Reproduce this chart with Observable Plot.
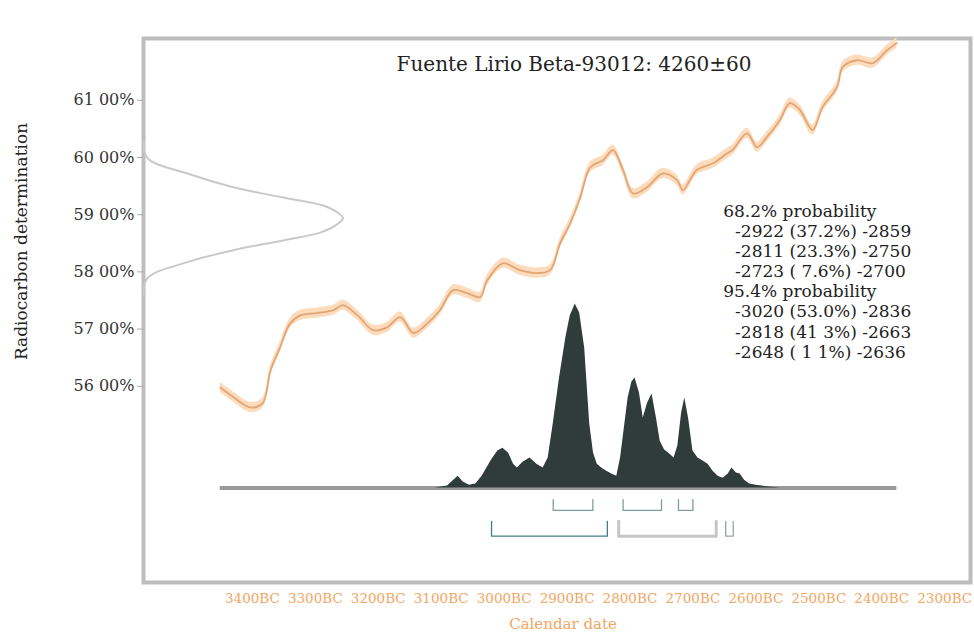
<!DOCTYPE html>
<html><head><meta charset="utf-8">
<script src="https://cdn.jsdelivr.net/npm/d3@7"></script>
<script src="https://cdn.jsdelivr.net/npm/@observablehq/plot@0.6"></script>
<style>
body{margin:0;background:#fff;}
#chart{width:974px;height:634px;}
</style></head><body><div id="chart"></div>
<script>
const title = "Fuente Lirio Beta-93012: 4260±60";
const yAxisLabel = "Radiocarbon determination";
const xAxisLabel = "Calendar date";

// calibration curve (calendar year, negative = BC) and radiocarbon %
const curveYear = [-3451,-3430,-3403,-3384,-3371,-3356,-3340,-3324,-3297,-3271,-3256,-3233,-3208,-3186,-3165,-3144,-3122,-3102,-3081,-3059,-3038,-3027,-3002,-2975,-2948,-2927,-2911,-2895,-2879,-2863,-2843,-2827,-2811,-2795,-2773,-2748,-2725,-2716,-2694,-2668,-2646,-2637,-2614,-2598,-2583,-2562,-2546,-2530,-2510,-2494,-2471,-2462,-2440,-2414,-2392,-2376];
const curvePct = [55.98,55.81,55.63,55.70,56.28,56.68,57.10,57.24,57.28,57.33,57.42,57.24,56.98,57.03,57.21,56.93,57.10,57.33,57.68,57.63,57.56,57.85,58.15,58.03,57.98,58.03,58.50,58.85,59.30,59.83,59.95,60.13,59.78,59.37,59.48,59.72,59.60,59.43,59.78,59.90,60.07,60.13,60.42,60.18,60.35,60.65,60.95,60.83,60.48,60.88,61.23,61.58,61.70,61.65,61.87,62.00];

// calibrated probability distribution (relative)
const probYear = [-3110,-3090,-3080,-3073,-3065,-3055,-3045,-3035,-3020,-3010,-3002,-2993,-2985,-2979,-2970,-2959,-2948,-2938,-2930,-2922,-2912,-2902,-2895,-2887,-2880,-2872,-2864,-2858,-2852,-2845,-2837,-2829,-2821,-2815,-2811,-2803,-2797,-2792,-2785,-2779,-2772,-2765,-2758,-2752,-2745,-2737,-2730,-2724,-2718,-2713,-2707,-2700,-2692,-2684,-2676,-2668,-2660,-2652,-2644,-2638,-2631,-2625,-2618,-2610,-2600,-2590,-2575,-2560];
const probValue = [0,0.011,0.043,0.065,0.033,0.016,0.022,0.065,0.152,0.201,0.217,0.190,0.130,0.109,0.141,0.163,0.130,0.109,0.163,0.348,0.598,0.815,0.935,1.000,0.951,0.761,0.348,0.190,0.130,0.109,0.092,0.076,0.065,0.163,0.272,0.489,0.576,0.598,0.516,0.380,0.462,0.511,0.380,0.255,0.207,0.185,0.163,0.228,0.408,0.489,0.380,0.201,0.163,0.147,0.130,0.092,0.065,0.054,0.076,0.109,0.082,0.076,0.043,0.022,0.016,0.011,0.005,0];

// radiocarbon measurement distribution (on the y axis)
const measPct = [60.30,59.99,59.72,59.48,59.30,59.16,59.02,58.94,58.83,58.69,58.55,58.38,58.17,57.89,57.59];
const measDensity = [0,0.02,0.22,0.45,0.70,0.90,0.98,1.00,0.97,0.89,0.70,0.45,0.22,0.02,0];

// ranges
const range68From = [-2922,-2811,-2723];
const range68To = [-2859,-2750,-2700];
const range95From = [-3020,-2818,-2648];
const range95To = [-2836,-2663,-2636];

const probText = ["68.2% probability","-2922 (37.2%) -2859","-2811 (23.3%) -2750","-2723 ( 7.6%) -2700","95.4% probability","-3020 (53.0%) -2836","-2818 (41 3%) -2663","-2648 ( 1 1%) -2636"];
const probIndent = [0,1,1,1,0,1,1,1];

const yTicks = [56,57,58,59,60,61];
const yTickLabels = ["56 00%","57 00%","58 00%","59 00%","60 00%","61 00%"];
const xTicks = [-3400,-3300,-3200,-3100,-3000,-2900,-2800,-2700,-2600,-2500,-2400,-2300];
const xTickLabels = ["3400BC","3300BC","3200BC","3100BC","3000BC","2900BC","2800BC","2700BC","2600BC","2500BC","2400BC","2300BC"];

// ---- layout constants (styles / scale placement) ----
const xDomain = [-3573, -2259];
const yDomain = [52.57, 62.08];
const distBase = 54.22, distHeight = 3.22;
const measWidth = 317;
const orange = "#f3a562";
const font = "DejaVu Serif";

const curve = curveYear.map((x, i) => ({x, y: curvePct[i]}));
const dist = probYear.map((x, i) => ({x, p: probValue[i]}));
const meas = measPct.map((y, i) => ({y, d: measDensity[i]}));

function brackets(from, to, top, bot, level) {
  const out = [];
  from.forEach((f, i) => {
    const id = level + i;
    out.push({x: f, y: top, id, i}, {x: f, y: bot, id, i}, {x: to[i], y: bot, id, i}, {x: to[i], y: top, id, i});
  });
  return out;
}
const b68 = brackets(range68From, range68To, 54.02, 53.83, "a");
const b95 = brackets(range95From, range95To, 53.64, 53.38, "b");
const b95Colors = ["#3f8088", "#c6c6c6", "#9aa6a6"];
const b95Widths = [1.3, 3, 1.3];

const lines = probText.map((t, i) => ({t, indent: probIndent[i], row: i}));

const plot = Plot.plot({
  width: 974, height: 634,
  marginLeft: 143, marginRight: 4, marginTop: 38, marginBottom: 52,
  style: {fontFamily: font, background: "#fff"},
  x: {domain: xDomain},
  y: {domain: yDomain},
  marks: [
    Plot.frame({stroke: "#bdbdbd", strokeWidth: 4}),
    // calibration curve band + line
    Plot.areaY(curve, {x: "x", y1: d => d.y - 0.09, y2: d => d.y + 0.09, fill: "#fcdcbc", curve: "catmull-rom"}),
    Plot.line(curve, {x: "x", y: "y", stroke: "#e2a676", strokeWidth: 1.8, curve: "catmull-rom"}),
    // measurement distribution
    Plot.line(meas, {x: d => xDomain[0] + d.d * measWidth, y: "y", stroke: "#c9c9c9", strokeWidth: 2, curve: "catmull-rom", clip: true}),
    // baseline
    Plot.ruleY([distBase], {x1: d3.min(curveYear), x2: d3.max(curveYear), stroke: "#9a9a9a", strokeWidth: 4}),
    // calibrated distribution
    Plot.areaY(dist, {x: "x", y1: distBase, y2: d => distBase + d.p * distHeight, fill: "#2f3c39", curve: "linear"}),
    // range brackets
    Plot.line(b68, {x: "x", y: "y", z: "id", stroke: "#7e9e9c", strokeWidth: 1.3}),
    ...[0, 1, 2].map(k => Plot.line(b95.filter(d => d.i === k), {x: "x", y: "y", stroke: b95Colors[k], strokeWidth: b95Widths[k]})),
    // probability text
    Plot.text(lines, {x: d => d.indent ? -2633 : -2652, y: d => 59.06 - d.row * 0.352, text: "t", textAnchor: "start", lineAnchor: "middle", fontSize: 17, fill: "#222", fontFamily: font}),
    // title
    Plot.text([title], {frameAnchor: "top", dx: 17, dy: 18, fontSize: 20, fill: "#222", fontFamily: font}),
    // axes
    Plot.axisY(yTicks, {tickFormat: d => yTickLabels[yTicks.indexOf(d)], tickSize: 6, tickPadding: 3, stroke: "#aaa", fill: "#333", fontSize: 16, label: null, fontFamily: font}),
    Plot.axisX(xTicks, {tickFormat: d => xTickLabels[xTicks.indexOf(d)], tickSize: 0, tickPadding: 11, fill: orange, fontSize: 13.5, label: null, fontFamily: font}),
    Plot.text([yAxisLabel], {frameAnchor: "left", textAnchor: "middle", lineAnchor: "middle", rotate: -90, dx: -122, dy: -69, fontSize: 17, fill: "#222", fontFamily: font}),
    Plot.text([xAxisLabel], {frameAnchor: "bottom", lineAnchor: "middle", dx: 6, dy: 42, fontSize: 15, fill: orange, fontFamily: font})
  ]
});
document.getElementById("chart").appendChild(plot);
</script>
</body></html>
